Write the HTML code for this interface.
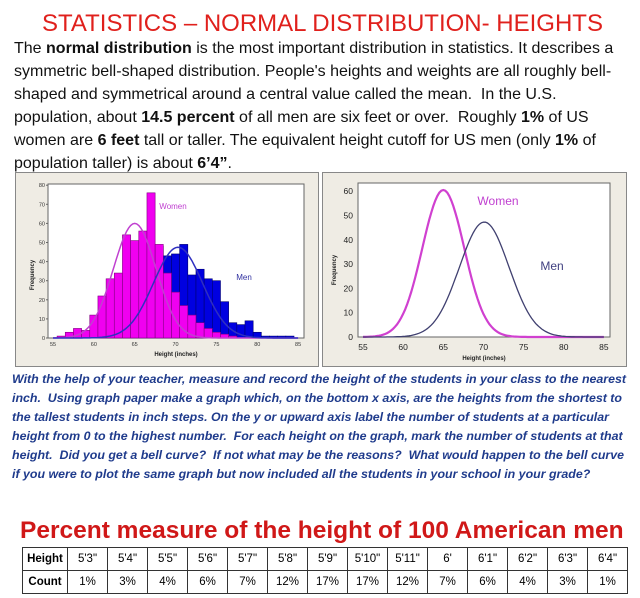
<!DOCTYPE html><html><head><meta charset="utf-8"><style>
body{margin:0;width:640px;height:598px;background:#fff;font-family:"Liberation Sans",Arial,sans-serif;overflow:hidden;position:relative}
.t{position:absolute;white-space:nowrap}
#title{left:0;width:645px;text-align:center;top:10px;color:#e0201c;font-size:24px}
.body{left:14px;font-size:16px;color:#111}
.it{left:12px;font-size:12.4px;font-weight:bold;font-style:italic;color:#1f3b8c}
#t2{left:20px;top:517px;font-size:24.5px;font-weight:bold;color:#d01818}
table{position:absolute;left:22px;top:547px;width:606px;border-collapse:collapse;font-size:11.5px;table-layout:fixed}
td{border:1px solid #333;text-align:center;height:22px;padding:0}
td:first-child{font-weight:bold;width:44px}
</style></head><body>
<div class="t" id="title">STATISTICS – NORMAL DISTRIBUTION- HEIGHTS</div>
<div class="t body" style="top:40px">The <b>normal distribution</b> is the most important distribution in statistics. It describes a</div>
<div class="t body" style="top:63px">symmetric bell-shaped distribution. People's heights and weights are all roughly bell-</div>
<div class="t body" style="top:86px">shaped and symmetrical around a central value called the mean.&nbsp; In the U.S.</div>
<div class="t body" style="top:109px">population, about <b>14.5 percent</b> of all men are six feet or over.&nbsp; Roughly <b>1%</b> of US</div>
<div class="t body" style="top:132px">women are <b>6 feet</b> tall or taller. The equivalent height cutoff for US men (only <b>1%</b> of</div>
<div class="t body" style="top:155px">population taller) is about <b>6’4”</b>.</div>
<svg id="sv" width="640" height="372" style="position:absolute;left:0;top:0"></svg>
<div class="t it" style="top:372px">With the help of your teacher, measure and record the height of the students in your class to the nearest</div>
<div class="t it" style="top:391px">inch.&nbsp; Using graph paper make a graph which, on the bottom x axis, are the heights from the shortest to</div>
<div class="t it" style="top:410px">the tallest students in inch steps. On the y or upward axis label the number of students at a particular</div>
<div class="t it" style="top:429px">height from 0 to the highest number.&nbsp; For each height on the graph, mark the number of students at that</div>
<div class="t it" style="top:448px">height.&nbsp; Did you get a bell curve?&nbsp; If not what may be the reasons?&nbsp; What would happen to the bell curve</div>
<div class="t it" style="top:467px">if you were to plot the same graph but now included all the students in your school in your grade?</div>
<div class="t" id="t2">Percent measure of the height of 100 American men</div>
<table><tr><td>Height</td><td>5'3"</td><td>5'4"</td><td>5'5"</td><td>5'6"</td><td>5'7"</td><td>5'8"</td><td>5'9"</td><td>5'10"</td><td>5'11"</td><td>6'</td><td>6'1"</td><td>6'2"</td><td>6'3"</td><td>6'4"</td></tr>
<tr><td>Count</td><td>1%</td><td>3%</td><td>4%</td><td>6%</td><td>7%</td><td>12%</td><td>17%</td><td>17%</td><td>12%</td><td>7%</td><td>6%</td><td>4%</td><td>3%</td><td>1%</td></tr></table>
<script>
var s='';
function R(x,y,w,h,f,st,sw){s+='<rect x="'+x+'" y="'+y+'" width="'+w+'" height="'+h+'" fill="'+f+'" stroke="'+(st||'none')+'" stroke-width="'+(sw||1)+'"/>';}
function T(x,y,t,sz,c,a,ex){s+='<text x="'+x+'" y="'+y+'" font-size="'+sz+'" fill="'+c+'" text-anchor="'+(a||'middle')+'" '+(ex||'')+'>'+t+'</text>';}
R(15.5,172.5,303,194,'#efece4','#888');R(48,184,256,154,'#fff','#666');
var X=function(v){return 53+(v-55)*8.17},Y=function(v){return 338-v*1.91};
var men=[[60,1],[61,2],[62,3],[63,5],[64,8],[65,12],[66,18],[67,30],[68,48],[69,43],[70,44],[71,49],[72,33],[73,36],[74,31],[75,30],[76,19],[77,8],[78,7],[79,9],[80,3],[81,1],[82,1],[83,1],[84,1]];
men.forEach(function(m){R(X(m[0]-0.5),Y(m[1]),8.17,m[1]*1.91,'#0000e0','#000070',0.6)});
var wo=[1,3,5,4,12,22,31,34,54,51,56,76,49,34,24,17,12,8,5,3,2,1];
wo.forEach(function(h,i){var c=56+i;R(X(c-0.5),Y(h),8.17,h*1.91,'#f000f0','#800080',0.6)});
function curve(X,Y,mu,sd,pk,c,w){var p='';for(var v=55;v<=85;v+=0.25){var y=pk*Math.exp(-0.5*Math.pow((v-mu)/sd,2));p+=(p?'L':'M')+X(v).toFixed(1)+','+Y(y).toFixed(1);}s+='<path d="'+p+'" fill="none" stroke="'+c+'" stroke-width="'+w+'"/>';}
curve(X,Y,65,2.6,60,'#c040d0',1.5);curve(X,Y,70.3,3,47.5,'#3030c0',1.5);
for(var v=0;v<=80;v+=10){T(45,Y(v)+2,v,5.5,'#333','end');s+='<line x1="46" x2="48" y1="'+Y(v)+'" y2="'+Y(v)+'" stroke="#666"/>';}
for(var v=55;v<=85;v+=5){T(X(v),346,v,5.5,'#333');}
T(176,356,'Height (inches)',6,'#222','middle','font-weight="bold"');
T(34,275,'Frequency',6,'#222','middle','font-weight="bold" transform="rotate(-90 34 275)"');
T(173,209,'Women',8,'#c040d0');T(244,280,'Men',8,'#3030a0');
R(322.5,172.5,304,194,'#efece4','#888');R(358,183,252,154,'#fff','#666');
var X2=function(v){return 363+(v-55)*8.03},Y2=function(v){return 337-v*2.43};
curve(X2,Y2,65,2.6,60.5,'#d040d0',2.2);curve(X2,Y2,70.1,3.1,47.3,'#404070',1.3);
for(var v=0;v<=60;v+=10){T(353,Y2(v)+3,v,8.5,'#222','end');}
for(var v=55;v<=85;v+=5){T(X2(v),350,v,8.5,'#222');}
T(484,360,'Height (inches)',6,'#222','middle','font-weight="bold"');
T(336,270,'Frequency',6,'#222','middle','font-weight="bold" transform="rotate(-90 336 270)"');
T(498,205,'Women',12,'#c040d0');T(552,270,'Men',12,'#404080');
document.getElementById('sv').innerHTML=s;
</script>
</body></html>
